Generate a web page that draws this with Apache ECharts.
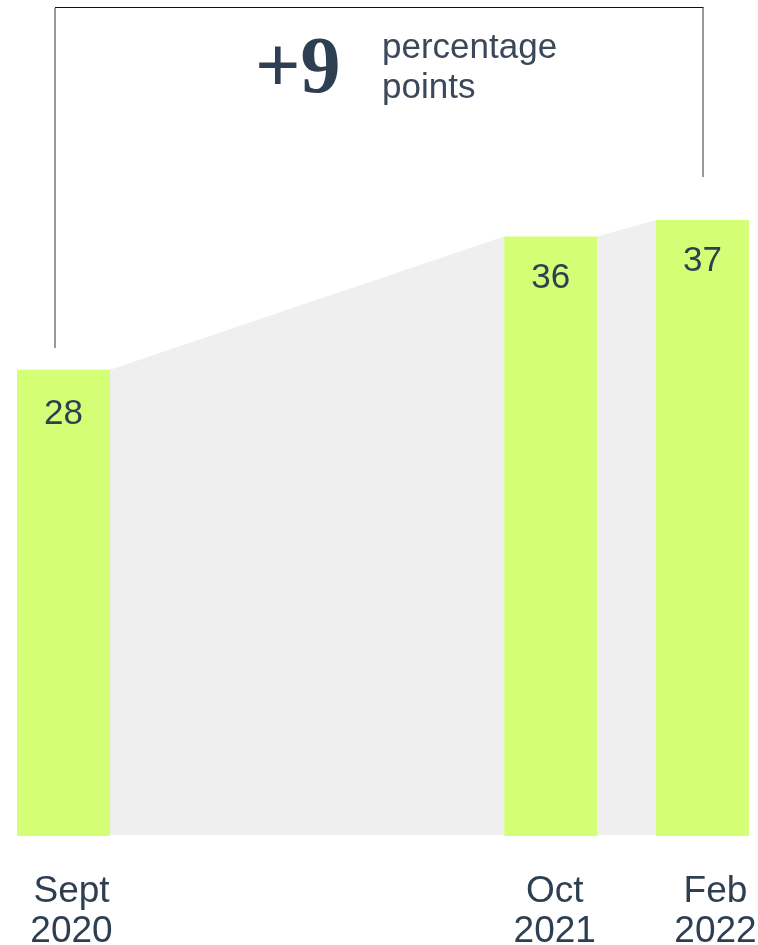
<!DOCTYPE html>
<html><head><meta charset="utf-8">
<script src="https://cdn.jsdelivr.net/npm/echarts@6/dist/echarts.min.js"></script>
<style>html,body{margin:0;padding:0;background:#fff}#c{width:758px;height:945px}</style>
</head><body><div id="c"></div>
<script>
// Data
const categories = ['Sept\n2020', 'Oct\n2021', 'Feb\n2022'];
const dates = ['2020-09-01', '2021-10-01', '2022-02-01'];
const values = [28, 36, 37];
const changeLabel = '+9';
const changeText = 'percentage\npoints';

const TEXT = '#2f3f52';
const BAR = '#d5fe77';
const GREY = '#efefef';
const HALF = 46.5;
const DAY = 86400000;
const t0 = Date.parse(dates[0]);
const dayOffsets = dates.map(d => Math.round((Date.parse(d) - t0) / DAY));
const labelShift = [16, 8, 26];

const barData = dayOffsets.map((d, i) => ({
  value: [d, values[i]],
  label: { distance: i === 0 ? 27 : 24 }
}));
const areaData = [];
for (let i = 0; i < values.length - 1; i++) {
  areaData.push([dayOffsets[i], values[i], dayOffsets[i + 1], values[i + 1]]);
}
const rich = {};
labelShift.forEach((s, i) => {
  rich['l' + i] = { color: TEXT, fontFamily: 'Liberation Sans', fontSize: 37, lineHeight: 40, padding: [0, 0, 0, s] };
});

const chart = echarts.init(document.getElementById('c'));
chart.setOption({
  animation: false,
  grid: { left: 17, right: 9, top: 3.5, bottom: 109, containLabel: false, outerBoundsMode: 'none' },
  xAxis: {
    type: 'value', min: -37.7, max: 518 + 37.7,
    splitLine: { show: false }, axisLine: { show: false }, axisTick: { show: false },
    axisLabel: {
      customValues: dayOffsets,
      formatter: v => {
        const i = dayOffsets.indexOf(v);
        if (i < 0) return '';
        return categories[i].split('\n').map(t => '{l' + i + '|' + t + '}').join('\n');
      },
      rich: rich,
      margin: 36,
      showMinLabel: true, showMaxLabel: true
    }
  },
  yAxis: { type: 'value', min: 0, max: 50, show: false },
  series: [
    {
      type: 'custom',
      data: areaData,
      z: 1,
      renderItem: (params, api) => {
        const a = api.coord([api.value(0), api.value(1)]);
        const b = api.coord([api.value(2), api.value(3)]);
        const a0 = api.coord([api.value(0), 0]);
        const b0 = api.coord([api.value(2), 0]);
        return {
          type: 'polygon',
          shape: { points: [[a[0] + HALF, a[1]], [b[0] - HALF, b[1]], [b0[0] - HALF, b0[1] - 1], [a0[0] + HALF, a0[1] - 1]] },
          style: { fill: GREY }
        };
      }
    },
    {
      type: 'bar',
      data: barData,
      barWidth: 93,
      z: 2,
      itemStyle: { color: BAR },
      label: {
        show: true, position: 'insideTop',
        color: TEXT, fontFamily: 'Liberation Sans', fontSize: 35,
        formatter: p => p.value[1]
      }
    }
  ],
  graphic: [
    { type: 'line', shape: { x1: 55, y1: 8, x2: 55, y2: 348 }, style: { stroke: '#777', lineWidth: 1.5 } },
    { type: 'line', shape: { x1: 55, y1: 7.5, x2: 703.5, y2: 7.5 }, style: { stroke: '#111', lineWidth: 1.2 } },
    { type: 'line', shape: { x1: 703, y1: 7.5, x2: 703, y2: 177 }, style: { stroke: '#333', lineWidth: 1 } },
    { type: 'text', left: 255, top: 31, style: { text: changeLabel, fill: TEXT, font: 'bold 80px "Liberation Serif"' } },
    { type: 'text', left: 382, top: 28, style: { text: changeText, fill: '#3a4859', font: '35px "Liberation Sans"', lineHeight: 40 } }
  ]
});
</script></body></html>
